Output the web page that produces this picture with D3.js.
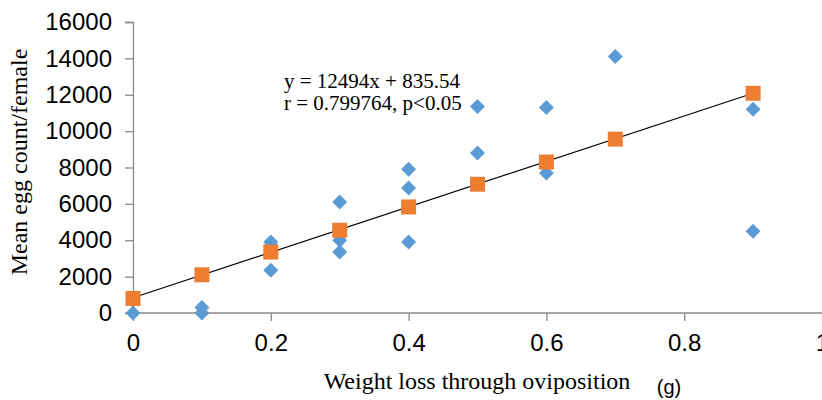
<!DOCTYPE html>
<html lang="en">
<head>
<meta charset="UTF-8"/>
<title>Egg count vs weight loss</title>
<script src="https://d3js.org/d3.v7.min.js"></script>
<style>
  body { margin: 0; background: #fff; }
  .tick text { font-family: "Liberation Sans", Arial, sans-serif; font-size: 24px; fill: #000; }
  .serif { font-family: "Liberation Serif", "Times New Roman", serif; fill: #000; }
</style>
</head>
<body>
<div id="chart"></div>
<script>
// observed values (blue diamonds)
var obsX = [0, 0, 0.1, 0.1, 0.2, 0.2, 0.2, 0.3, 0.3, 0.3, 0.4, 0.4, 0.4, 0.5, 0.5, 0.6, 0.6, 0.7, 0.9, 0.9];
var obsY = [0, 700, 0, 300, 3900, 3700, 2350, 6100, 4000, 3350, 7900, 6870, 3900, 11350, 8800, 11300, 7700, 14100, 11200, 4500];

// mean values (orange squares)
var meanX = [0, 0.1, 0.2, 0.3, 0.4, 0.5, 0.6, 0.7, 0.9];
var meanY = [800, 2100, 3350, 4550, 5830, 7080, 8300, 9560, 12080];

// regression
var slope = 12494, intercept = 835.54;
var xTicks = [0, 0.2, 0.4, 0.6, 0.8, 1];
var yTicks = [0, 2000, 4000, 6000, 8000, 10000, 12000, 14000, 16000];

var w = 822, h = 400;
var svg = d3.select("#chart").append("svg").attr("width", w).attr("height", h);

var x = d3.scaleLinear().domain([0, 1]).range([133, 822]);
var y = d3.scaleLinear().domain([0, 16000]).range([313, 22]);

// axes
var yAxis = d3.axisLeft(y).tickValues(yTicks).tickSize(8).tickPadding(13).tickFormat(d3.format("d"));
var xAxis = d3.axisBottom(x).tickValues(xTicks).tickSize(8).tickPadding(13).tickFormat(function(d){ return d; });

var gy = svg.append("g").attr("transform", "translate(133,0)").call(yAxis);
var gx = svg.append("g").attr("transform", "translate(0,313)").call(xAxis);
[gx, gy].forEach(function(g){
  g.selectAll("path, line").attr("stroke", "#898989").attr("stroke-width", 1.3);
});
gx.select(".domain").attr("d", "M133,0H822");

// trendline
svg.append("line")
  .attr("x1", x(0)).attr("y1", y(intercept))
  .attr("x2", x(0.9)).attr("y2", y(slope * 0.9 + intercept))
  .attr("stroke", "#000").attr("stroke-width", 1.2);

// diamonds
var diamond = d3.symbol().type(d3.symbolSquare).size(112);
svg.selectAll(".obs")
  .data(obsX)
  .enter().append("path")
  .attr("class", "obs")
  .attr("d", diamond)
  .attr("transform", function(d, i){ return "translate(" + x(d) + "," + y(obsY[i]) + ") rotate(45)"; })
  .attr("fill", "#5B9BD5");

// squares
var square = d3.symbol().type(d3.symbolSquare).size(225);
svg.selectAll(".mean")
  .data(meanX)
  .enter().append("path")
  .attr("class", "mean")
  .attr("d", square)
  .attr("transform", function(d, i){ return "translate(" + x(d) + "," + y(meanY[i]) + ")"; })
  .attr("fill", "#ED7D31");

// equation
svg.append("text").attr("class", "serif").attr("x", 284).attr("y", 88)
  .attr("font-size", "21px").text("y = 12494x + 835.54");
svg.append("text").attr("class", "serif").attr("x", 284).attr("y", 110)
  .attr("font-size", "21px").text("r = 0.799764, p<0.05");

// axis titles
svg.append("text").attr("class", "serif")
  .attr("transform", "translate(27,162) rotate(-90)")
  .attr("text-anchor", "middle").attr("font-size", "24px")
  .text("Mean egg count/female");

svg.append("text").attr("class", "serif")
  .attr("x", 477).attr("y", 389).attr("text-anchor", "middle").attr("font-size", "24px")
  .text("Weight loss through oviposition");

svg.append("text")
  .attr("x", 669).attr("y", 394).attr("text-anchor", "middle")
  .attr("font-family", "Liberation Sans, Arial, sans-serif").attr("font-size", "20px")
  .text("(g)");
</script>
</body>
</html>
